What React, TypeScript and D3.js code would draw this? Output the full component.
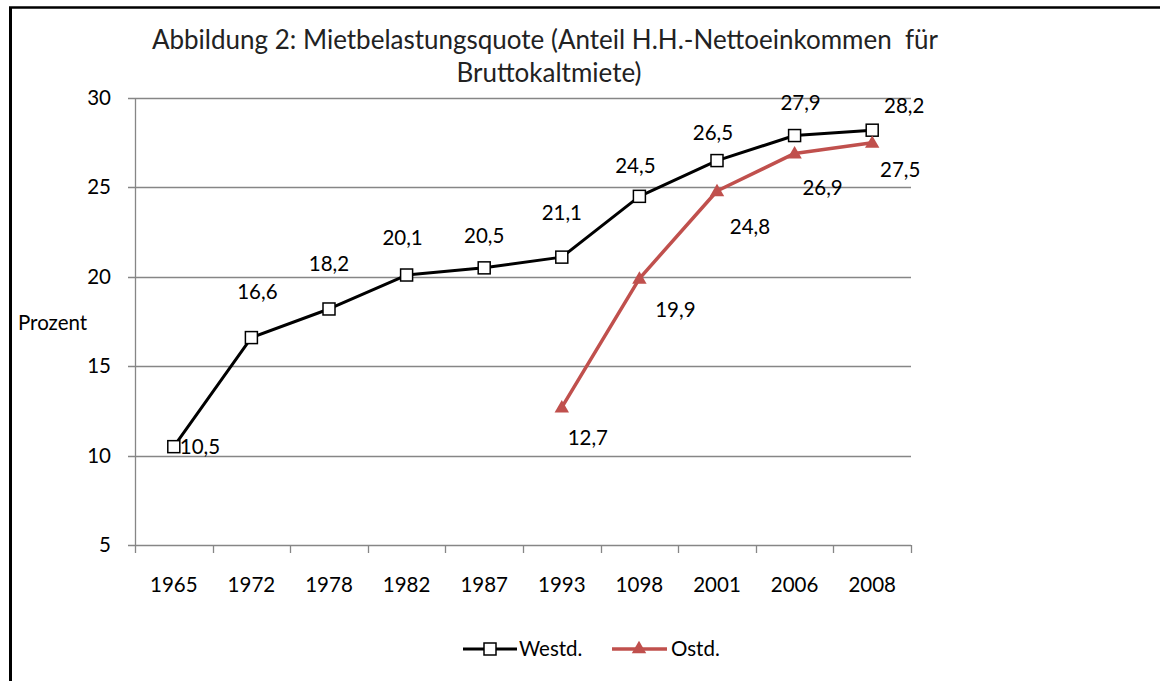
import React from 'react';
import * as d3 from 'd3';

// Daten
const jahre = ['1965', '1972', '1978', '1982', '1987', '1993', '1098', '2001', '2006', '2008'];
const westd = [10.5, 16.6, 18.2, 20.1, 20.5, 21.1, 24.5, 26.5, 27.9, 28.2];
const ostd: (number | null)[] = [null, null, null, null, null, 12.7, 19.9, 24.8, 26.9, 27.5];
const yTicks = [5, 10, 15, 20, 25, 30];

// Lage der Datenbeschriftungen (dx, dy relativ zum Punkt)
const westLabelPos: [number, number][] = [
  [6, 7], [6, -39], [0, -38], [-4, -30], [0, -25], [0, -37], [-4, -23], [-4, -21], [6, -26], [32, -17],
];
const ostLabelPos: [number, number][] = [
  [0, 0], [0, 0], [0, 0], [0, 0], [0, 0], [26, 38], [36, 38], [33, 43], [28, 42], [28, 34],
];

const W = 1160;
const H = 681;
const font = 'Lato, "Open Sans", sans-serif';
const red = '#c0504d';
const grid = '#868686';
const fs = 20.5;

const App: React.FC = () => {
  const x = d3.scaleBand<string>().domain(jahre).range([135, 911]);
  const y = d3.scaleLinear().domain([5, 30]).range([545, 98]);
  const cx = (j: string) => (x(j) as number) + x.bandwidth() / 2;

  const line = d3.line<[string, number | null]>()
    .defined(d => d[1] !== null)
    .x(d => cx(d[0]))
    .y(d => y(d[1] as number));

  const westPts = jahre.map((j, i) => [j, westd[i]] as [string, number | null]);
  const ostPts = jahre.map((j, i) => [j, ostd[i]] as [string, number | null]);
  const tri = d3.symbol().type(d3.symbolTriangle).size(90)() as string;

  return (
    <svg width={W} height={H} style={{ position: 'absolute', left: 0, top: 0, background: '#fff' }} fontFamily={font}>
      {/* Rahmen */}
      <line x1={10.5} y1={7} x2={10.5} y2={H} stroke="#000" strokeWidth={3} />
      <line x1={9} y1={7.5} x2={W} y2={7.5} stroke="#000" strokeWidth={2.5} />

      {/* Titel */}
      <text x={545} y={49} textAnchor="middle" fontSize={26} fill="#222">
        Abbildung 2: Mietbelastungsquote (Anteil H.H.-Nettoeinkommen&#160; für
      </text>
      <text x={549} y={82} textAnchor="middle" fontSize={26} fill="#222">Bruttokaltmiete)</text>

      {/* Gitter und Achsen */}
      {yTicks.map(t => (
        <g key={t}>
          <line x1={128} x2={911} y1={Math.round(y(t)) + 0.5} y2={Math.round(y(t)) + 0.5} stroke={grid} strokeWidth={1.3} />
          <text x={111} y={y(t) + 7} textAnchor="end" fontSize={fs} fill="#000">{t}</text>
        </g>
      ))}
      <line x1={135.5} x2={135.5} y1={98} y2={553} stroke={grid} strokeWidth={1.3} />
      {jahre.map((j, i) => (
        <g key={j}>
          <line x1={Math.round((x(j) as number) + x.bandwidth()) + 0.5} x2={Math.round((x(j) as number) + x.bandwidth()) + 0.5}
            y1={545} y2={553} stroke={grid} strokeWidth={1.3} />
          <text x={cx(j)} y={592} textAnchor="middle" fontSize={fs} fill="#000">{jahre[i]}</text>
        </g>
      ))}
      <text x={18} y={330} fontSize={fs} fill="#000">Prozent</text>

      {/* Linien */}
      <path d={line(westPts) as string} fill="none" stroke="#000" strokeWidth={3} strokeLinejoin="round" />
      <path d={line(ostPts) as string} fill="none" stroke={red} strokeWidth={3.5} strokeLinejoin="round" />

      {westPts.map(([j, v]) => (
        <rect key={j} x={cx(j) - 6} y={y(v as number) - 6} width={12} height={12} fill="#fff" stroke="#000" strokeWidth={1.5} />
      ))}
      {ostPts.filter(d => d[1] !== null).map(([j, v]) => (
        <path key={j} d={tri} transform={`translate(${cx(j)},${y(v as number) + 1})`} fill={red} />
      ))}

      {/* Datenbeschriftungen */}
      {westPts.map(([j, v], i) => {
        const [dx, dy] = westLabelPos[i];
        return (
          <text key={j} x={cx(j) + dx} y={y(v as number) + dy} textAnchor={i === 0 ? 'start' : 'middle'}
            fontSize={fs} fill="#000">{String(v).replace('.', ',')}</text>
        );
      })}
      {ostPts.map(([j, v], i) => {
        if (v === null) return null;
        const [dx, dy] = ostLabelPos[i];
        return (
          <text key={j} x={cx(j) + dx} y={y(v) + dy} textAnchor="middle" fontSize={fs} fill="#000">
            {String(v).replace('.', ',')}
          </text>
        );
      })}

      {/* Legende */}
      <line x1={463} x2={517} y1={649} y2={649} stroke="#000" strokeWidth={3} />
      <rect x={484} y={643} width={12} height={12} fill="#fff" stroke="#000" strokeWidth={1.5} />
      <text x={519} y={656} fontSize={fs} fill="#000">Westd.</text>
      <line x1={612} x2={667} y1={649} y2={649} stroke={red} strokeWidth={3.5} />
      <path d={tri} transform="translate(639,649)" fill={red} />
      <text x={671} y={656} fontSize={fs} fill="#000">Ostd.</text>
    </svg>
  );
};

export default App;
